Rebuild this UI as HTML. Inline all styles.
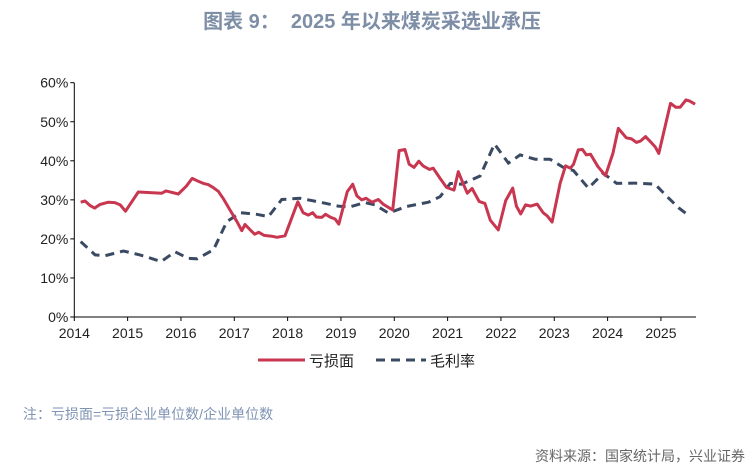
<!DOCTYPE html>
<html><head><meta charset="utf-8"><style>
body{margin:0;background:#fff;width:754px;height:470px;overflow:hidden;font-family:"Liberation Sans","Noto Sans CJK SC",sans-serif}
svg text{font-family:"Liberation Sans","Noto Sans CJK SC",sans-serif}
</style></head><body>
<svg id="chart" width="754" height="470" xmlns="http://www.w3.org/2000/svg">
<text x="372" y="28" text-anchor="middle" font-size="20" font-weight="bold" fill="#7d8ea6" xml:space="preserve">图表 9：  2025 年以来煤炭采选业承压</text>
<g id="axes"></g>
<g id="series"></g>
<g>
<line x1="258" y1="360" x2="305" y2="360" stroke="#c8364f" stroke-width="3"/>
<text x="309" y="366" font-size="15" fill="#222">亏损面</text>
<line x1="376" y1="360" x2="426" y2="360" stroke="#3b4a63" stroke-width="3" stroke-dasharray="9,6"/>
<text x="430" y="366" font-size="15" fill="#222">毛利率</text>
</g>
<text x="23" y="419" font-size="14" fill="#7f93b3">注：亏损面=亏损企业单位数/企业单位数</text>
<text x="745" y="461" text-anchor="end" font-size="14" fill="#666">资料来源：国家统计局，兴业证券</text>
</svg>
<script>
const yearTicks=[2014,2015,2016,2017,2018,2019,2020,2021,2022,2023,2024,2025];
const yTicks=[0,10,20,30,40,50,60];
const lossDates=[2014.12,2014.2,2014.3,2014.38,2014.48,2014.64,2014.76,2014.86,2014.96,2015.2,2015.64,2015.72,2015.95,2016.1,2016.21,2016.3,2016.42,2016.51,2016.6,2016.7,2016.79,2016.92,2017.05,2017.14,2017.2,2017.3,2017.38,2017.46,2017.56,2017.7,2017.8,2017.95,2018.19,2018.29,2018.39,2018.47,2018.54,2018.64,2018.71,2018.81,2018.89,2018.96,2019.12,2019.22,2019.3,2019.39,2019.47,2019.58,2019.7,2019.79,2019.9,2019.97,2020.09,2020.2,2020.28,2020.37,2020.46,2020.54,2020.66,2020.73,2020.86,2020.98,2021.12,2021.2,2021.29,2021.37,2021.46,2021.59,2021.7,2021.8,2021.95,2022.09,2022.22,2022.29,2022.37,2022.46,2022.56,2022.68,2022.79,2022.87,2022.96,2023.11,2023.21,2023.3,2023.36,2023.45,2023.53,2023.6,2023.68,2023.82,2023.96,2024.1,2024.2,2024.35,2024.45,2024.54,2024.62,2024.71,2024.83,2024.89,2024.96,2025.18,2025.28,2025.36,2025.47,2025.54,2025.64];
const lossValues=[29.4,29.7,28.5,27.9,28.8,29.4,29.3,28.7,27.1,32,31.7,32.3,31.5,33.5,35.5,34.9,34.2,33.9,33.2,32.2,30.4,27.4,24.4,22.1,23.7,22.3,21.2,21.7,20.9,20.7,20.4,20.8,29.5,26.7,26.1,26.7,25.6,25.5,26.3,25.5,25.1,23.8,32.1,34.0,31.0,30.0,30.4,29.4,30.1,28.9,28.0,27.4,42.6,42.9,39.1,38.3,39.9,38.7,37.8,38.1,35.5,33.2,32.5,37.2,34.2,31.7,32.9,29.6,29.1,24.8,22.3,29.8,33,28.4,26.4,28.7,28.4,28.9,26.7,25.9,24.3,34.2,38.7,38.1,39.1,42.8,42.9,41.5,41.7,38.5,36.2,41.9,48.3,45.9,45.6,44.7,45.1,46.2,44.5,43.6,41.9,54.7,53.7,53.7,55.6,55.3,54.5];
const marginDates=[2014.12,2014.39,2014.58,2014.92,2015.23,2015.63,2015.89,2016.14,2016.3,2016.61,2016.86,2017.11,2017.42,2017.64,2017.89,2018.23,2018.61,2018.95,2019.17,2019.45,2019.64,2019.89,2020.23,2020.64,2020.86,2021.05,2021.26,2021.61,2021.88,2022.14,2022.36,2022.64,2022.92,2023.17,2023.36,2023.64,2023.92,2024.17,2024.51,2024.89,2025.11,2025.33,2025.46];
const marginValues=[19.3,15.9,15.7,16.9,15.9,14.2,16.7,15.0,14.9,17.2,24.4,26.7,26.3,25.7,30.1,30.4,29.4,28.4,28.2,29.3,28.7,26.6,28.3,29.4,30.8,34.2,34.0,36.1,44.3,39.4,41.5,40.4,40.4,38.3,37.5,33,36.8,34.2,34.3,34,30.9,28.0,26.6];
const NS="http://www.w3.org/2000/svg";
const X0=74.3,PXY=53.33,Y0=317,PXV=3.905,XEND=696;
const xs=d=>X0+(d-2014)*PXY, ys=v=>Y0-v*PXV;
const axes=document.getElementById('axes'),ser=document.getElementById('series');
function mk(tag,attrs,parent){const e=document.createElementNS(NS,tag);for(const k in attrs)e.setAttribute(k,attrs[k]);parent.appendChild(e);return e;}
let ya=mk('line',{x1:X0,y1:ys(60),x2:X0,y2:Y0,stroke:'#000','stroke-width':1},axes);


let xa=mk('line',{x1:X0,y1:Y0,x2:XEND,y2:Y0,stroke:'#000','stroke-width':1},axes);


yTicks.forEach(v=>{
 const t=mk('line',{x1:X0-4,y1:ys(v),x2:X0,y2:ys(v),stroke:'#000'},axes);
 
 
 const l=mk('text',{x:X0-6,y:ys(v)+5,'text-anchor':'end','font-size':14,fill:'#222'},axes);
 l.textContent=v+'%';
 
 
});
yearTicks.forEach(y=>{
 const t=mk('line',{x1:xs(y),y1:Y0,x2:xs(y),y2:Y0+4,stroke:'#000'},axes);
 
 
 const l=mk('text',{x:xs(y),y:Y0+21,'text-anchor':'middle','font-size':14,fill:'#222'},axes);
 l.textContent=y;
 
 
});
const pts=(ds,vs)=>ds.map((d,i)=>xs(d).toFixed(1)+','+ys(vs[i]).toFixed(1)).join(' ');
const m=mk('polyline',{points:pts(marginDates,marginValues),fill:'none',stroke:'#3b4a63','stroke-width':3,'stroke-dasharray':'9,6'},ser);


const lo=mk('polyline',{points:pts(lossDates,lossValues),fill:'none',stroke:'#c8364f','stroke-width':3,'stroke-linejoin':'round'},ser);


</script>
</body></html>
